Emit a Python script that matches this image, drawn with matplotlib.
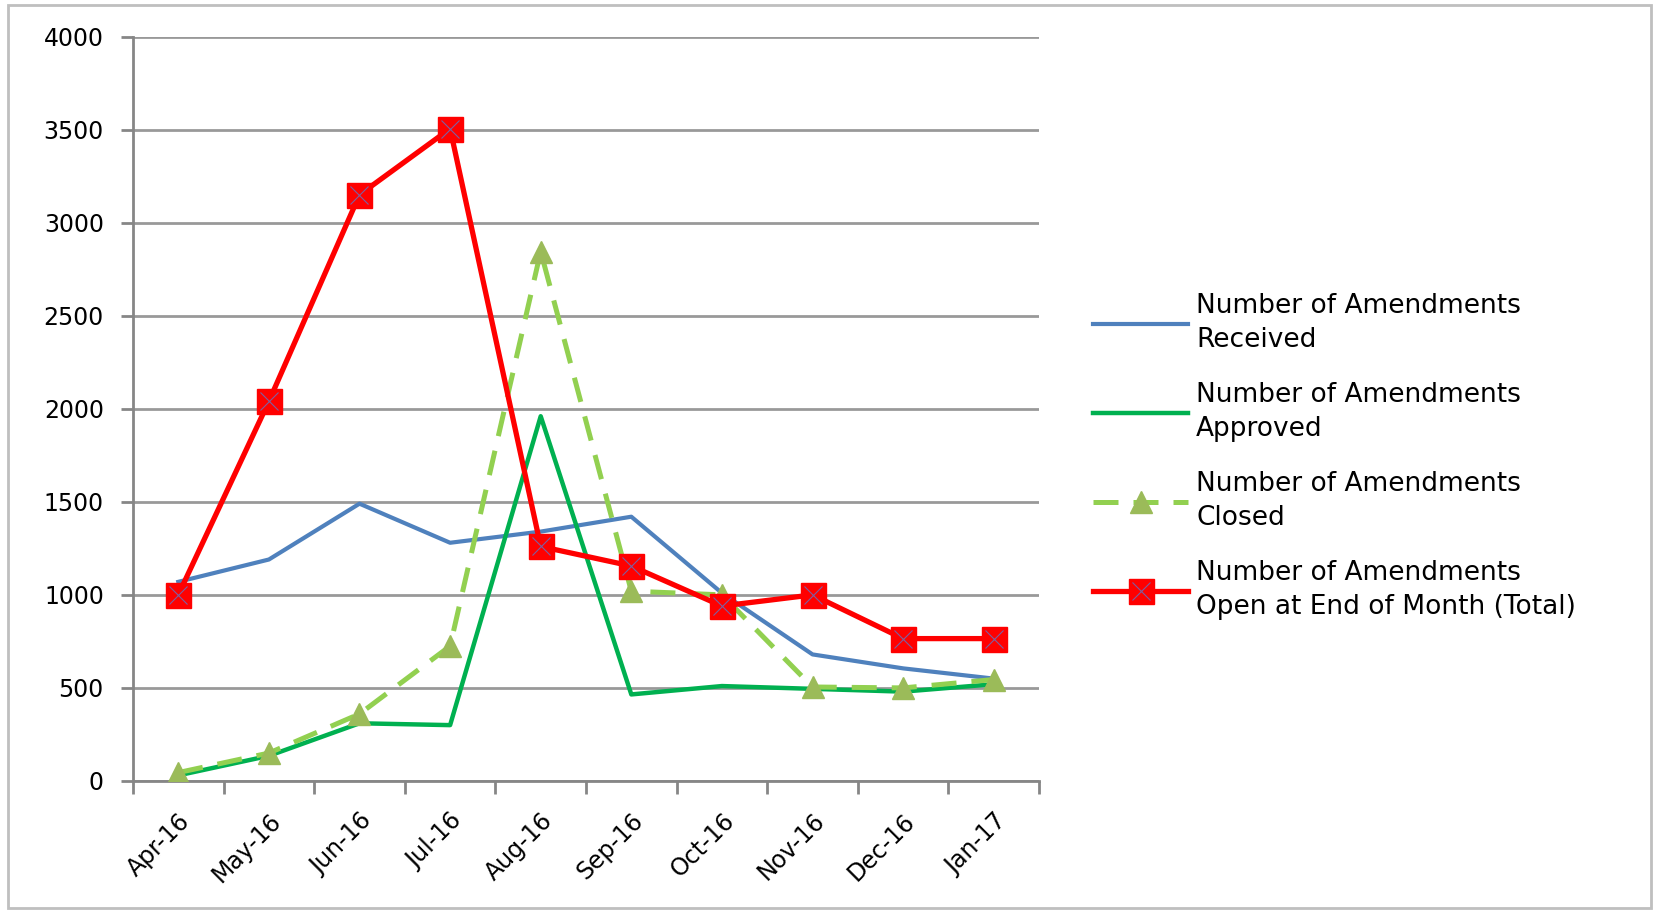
import matplotlib.pyplot as plt
from matplotlib.patches import Rectangle
from matplotlib.legend_handler import HandlerTuple

months = ['Apr-16', 'May-16', 'Jun-16', 'Jul-16', 'Aug-16',
          'Sep-16', 'Oct-16', 'Nov-16', 'Dec-16', 'Jan-17']
received = [1070, 1190, 1490, 1280, 1340, 1420, 1010, 680, 605, 550]
approved = [30, 135, 310, 300, 1960, 465, 510, 495, 480, 520]
closed = [45, 150, 360, 725, 2845, 1020, 1000, 505, 500, 545]
open_total = [1000, 2040, 3150, 3505, 1260, 1155, 940, 1000, 765, 765]

labels = ['Number of Amendments\nReceived',
          'Number of Amendments\nApproved',
          'Number of Amendments\nClosed',
          'Number of Amendments\nOpen at End of Month (Total)']

plt.rcParams['font.family'] = 'DejaVu Sans'
fig = plt.figure(figsize=(16.54, 9.10), dpi=100)
fig.patches.append(Rectangle((0.005, 0.002), 0.993, 0.992, transform=fig.transFigure,
                             fill=False, edgecolor='#bfbfbf', lw=2))
ax = fig.add_axes([0.0804, 0.1418, 0.5478, 0.818])

x = list(range(len(months)))
l1, = ax.plot(x, received, color='#4F81BD', lw=3, zorder=3)
l2, = ax.plot(x, approved, color='#00B050', lw=3.2, zorder=4)
l3, = ax.plot(x, closed, color='#92D050', lw=3.6, dashes=(5, 3),
              marker='^', ms=16, mfc='#9BBB59', mec='#9BBB59', zorder=5)
l4, = ax.plot(x, open_total, color='#FF0000', lw=3.8, marker='s', ms=18,
              mfc='#FF0000', mec='#FF0000', zorder=6)
l4x, = ax.plot(x, open_total, ls='none', marker='x', ms=13, mew=0.8,
               color='#7F5FA0', zorder=7)

ax.set_xlim(-0.5, len(months) - 0.5)
ax.set_ylim(0, 4000)
ax.set_yticks(range(0, 4001, 500))
ax.set_xticks(x)
ax.set_xticklabels(months, rotation=45, ha='right', rotation_mode='anchor', fontsize=17)
ax.set_xticks([i - 0.5 for i in range(len(months) + 1)], minor=True)
ax.tick_params(axis='x', which='major', length=0, pad=20)
ax.tick_params(axis='x', which='minor', length=9, width=2, color='#868686')
ax.tick_params(axis='y', length=9, width=2, color='#868686', labelsize=17, pad=12)

ax.grid(axis='y', color='#999999', lw=2)
ax.set_axisbelow(True)
for side in ['top', 'right']:
    ax.spines[side].set_visible(False)
for side in ['left', 'bottom']:
    ax.spines[side].set_color('#868686')
    ax.spines[side].set_linewidth(2)

leg = fig.legend([l1, l2, l3, (l4, l4x)], labels, loc='center left',
                 bbox_to_anchor=(0.661, 0.498), frameon=False, fontsize=19,
                 handlelength=3.6, handletextpad=0.3, labelspacing=1.1,
                 borderpad=0, borderaxespad=0,
                 handler_map={tuple: HandlerTuple(ndivide=1, pad=0)})
for t in leg.get_texts():
    t.set_linespacing(1.4)

fig.savefig('out.png', dpi=100)
